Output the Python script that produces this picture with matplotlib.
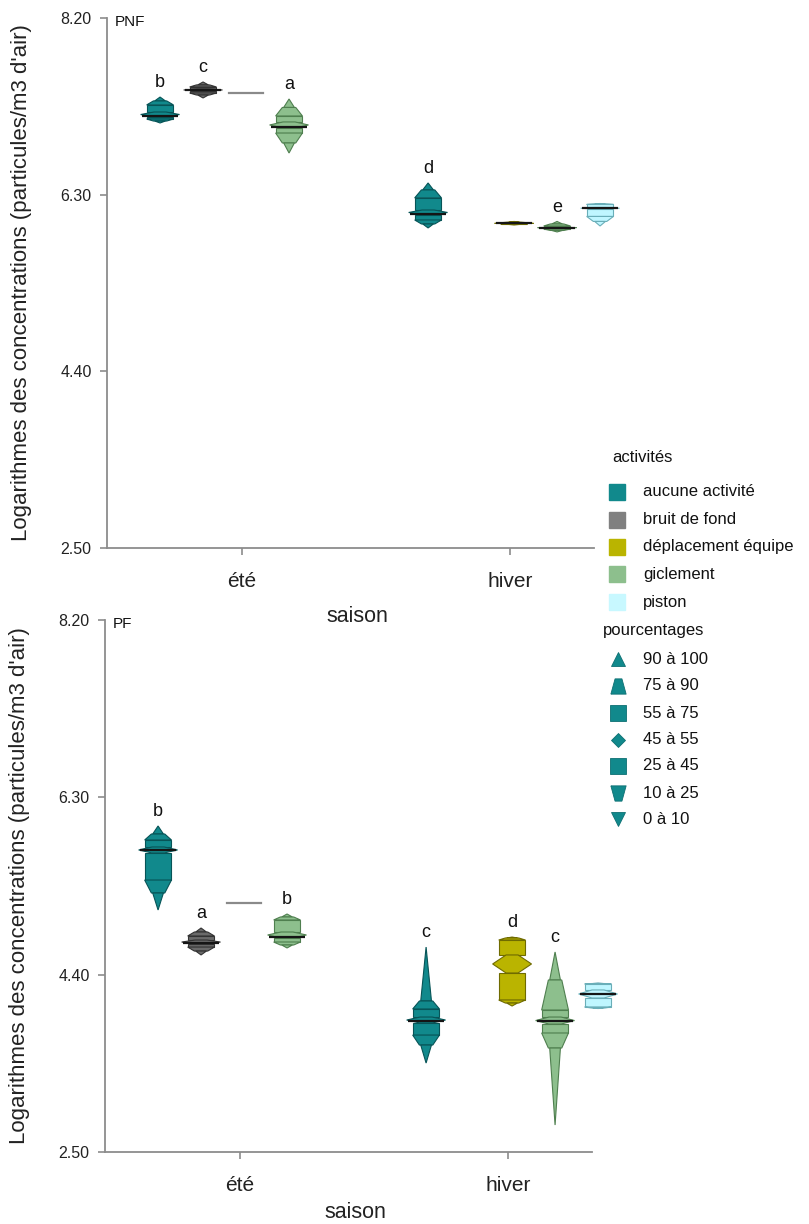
import matplotlib
matplotlib.use("Agg")
import matplotlib.pyplot as plt
from matplotlib.patches import Polygon

plt.rcParams['font.family'] = ['Liberation Sans', 'DejaVu Sans']

# ---------------- data ----------------
saisons = ["été", "hiver"]
activites = ["aucune activité", "bruit de fond", "déplacement équipe", "giclement", "piston"]
couleurs = ["#11898c", "#6a6a6a", "#bab400", "#8dbf8d", "#bff6ff"]
bords = ["#075457", "#333333", "#6f6b00", "#4f7f4f", "#6aaeb8"]
legende_couleurs = ["#11898c", "#808080", "#bab400", "#8dbf8d", "#c8f8ff"]
pourcentages = ["90 à 100", "75 à 90", "55 à 75", "45 à 55", "25 à 45", "10 à 25", "0 à 10"]
yticks = [2.50, 4.40, 6.30, 8.20]

# quantiles: p0, p10, p25, p45, p55, p75, p90, p100
pnf_saison = [0, 0, 0, 1, 1, 1, 1]
pnf_activite = [0, 1, 3, 0, 2, 3, 4]
pnf_quantiles = [
    [7.071, 7.092, 7.114, 7.135, 7.189, 7.265, 7.308, 7.350],
    [7.340, 7.372, 7.394, 7.415, 7.437, 7.458, 7.480, 7.512],
    [6.748, 6.856, 6.963, 7.017, 7.082, 7.146, 7.238, 7.329],
    [5.942, 5.985, 6.028, 6.082, 6.135, 6.265, 6.351, 6.426],
    [5.974, 5.980, 5.985, 5.989, 5.994, 5.998, 6.004, 6.012],
    [5.899, 5.915, 5.931, 5.942, 5.949, 5.963, 5.985, 6.012],
    [5.963, 6.012, 6.066, 6.146, 6.162, 6.195, 6.200, 6.205],
]
pnf_mediane = [7.146, 7.426, 7.028, 6.092, 5.991, 5.945, 6.154]
pnf_lettres = ["b", "c", "a", "d", "", "e", ""]
pnf_ligne_saison = [0]
pnf_ligne_activite = [2]
pnf_ligne = [7.394]

pf_saison = [0, 0, 0, 1, 1, 1, 1]
pf_activite = [0, 1, 3, 0, 2, 3, 4]
pf_quantiles = [
    [5.093, 5.275, 5.414, 5.704, 5.768, 5.843, 5.907, 5.993],
    [4.611, 4.653, 4.696, 4.728, 4.771, 4.814, 4.857, 4.900],
    [4.686, 4.718, 4.750, 4.793, 4.857, 4.986, 5.018, 5.050],
    [3.453, 3.646, 3.753, 3.882, 3.946, 4.032, 4.118, 4.696],
    [4.064, 4.096, 4.129, 4.418, 4.611, 4.771, 4.793, 4.803],
    [2.789, 3.614, 3.775, 3.871, 3.946, 4.021, 4.343, 4.643],
    [4.037, 4.043, 4.054, 4.150, 4.236, 4.300, 4.305, 4.311],
]
pf_mediane = [5.736, 4.739, 4.804, 3.903, None, 3.903, 4.193]
pf_lettres = ["b", "a", "b", "c", "d", "c", ""]
pf_ligne_saison = [0]
pf_ligne_activite = [2]
pf_ligne = [5.165]

# ---------------- layout ----------------
W = 0.10          # width of the rectangular parts (data units)
SLOT = 0.1604     # spacing between activities inside a season
OFF0 = -0.306     # offset of the first activity

fig = plt.figure(figsize=(8.09, 12.24), dpi=100)
FW, FH = 809, 1224


def add_ax(left, top, right, bottom):
    a = fig.add_axes([left / FW, 1 - bottom / FH, (right - left) / FW, (bottom - top) / FH])
    a.patch.set_visible(False)
    return a


ax_top = add_ax(107, 18, 594, 548)
ax_bot = add_ax(105, 620, 592, 1152)


def xpos(s, a):
    return s + OFF0 + a * SLOT


def draw_shape(ax, xc, q, face, edge):
    p0, p10, p25, p45, p55, p75, p90, p100 = q
    h = W / 2
    pm = (p45 + p55) / 2
    polys = [
        [(xc - 0.4 * h, p90), (xc + 0.4 * h, p90), (xc, p100)],
        [(xc - h, p75), (xc + h, p75), (xc + 0.5 * h, p90), (xc - 0.5 * h, p90)],
        [(xc - h, p55), (xc + h, p55), (xc + h, p75), (xc - h, p75)],
        [(xc - h, p25), (xc + h, p25), (xc + h, p45), (xc - h, p45)],
        [(xc - 0.5 * h, p10), (xc + 0.5 * h, p10), (xc + h, p25), (xc - h, p25)],
        [(xc, p0), (xc + 0.4 * h, p10), (xc - 0.4 * h, p10)],
        [(xc - 0.45 * h, p45), (xc + 0.45 * h, p45), (xc + 1.45 * h, pm),
         (xc + 0.45 * h, p55), (xc - 0.45 * h, p55), (xc - 1.45 * h, pm)],
    ]
    for pts in polys:
        ax.add_patch(Polygon(pts, closed=True, facecolor=face, edgecolor=edge,
                             linewidth=0.8, clip_on=False, zorder=3))


def draw_panel(ax, sais, act, quants, med, lettres, l_s, l_a, l_v, tag):
    for s, a, q, m, let in zip(sais, act, quants, med, lettres):
        xc = xpos(s, a)
        draw_shape(ax, xc, q, couleurs[a], bords[a])
        if m is not None:
            ax.plot([xc - 0.68 * W, xc + 0.68 * W], [m, m], color="#151515",
                    lw=1.6, zorder=4, clip_on=False, solid_capstyle="butt")
        if let:
            ax.annotate(let, (xc, q[-1]), xytext=(0, 4), textcoords="offset points",
                        ha="center", va="bottom", fontsize=13, color="#111111")
    for s, a, v in zip(l_s, l_a, l_v):
        xc = xpos(s, a)
        ax.plot([xc - 0.65 * W, xc + 0.65 * W], [v, v], color="#8a8a8a", lw=1.6, zorder=3)

    ax.set_xlim(-0.504, 1.313)
    ax.set_ylim(2.5, 8.2)
    ax.set_yticks(yticks)
    ax.set_yticklabels([f"{t:.2f}" for t in yticks])
    ax.set_xticks([0, 1])
    ax.set_xticklabels(saisons)
    for sp in ("top", "right"):
        ax.spines[sp].set_visible(False)
    for sp in ("left", "bottom"):
        ax.spines[sp].set_color("#8c8c8c")
        ax.spines[sp].set_linewidth(1.3)
    ax.tick_params(axis="y", colors="#8c8c8c", length=5, width=1.2, labelsize=11.5,
                   labelcolor="#222222", pad=6)
    ax.tick_params(axis="x", colors="#8c8c8c", length=5, width=1.2, labelsize=15,
                   labelcolor="#222222", pad=12)
    ax.set_ylabel("Logarithmes des concentrations (particules/m3 d'air)", fontsize=16,
                  color="#222222")
    ax.yaxis.set_label_coords(-0.155, 0.5)
    ax.set_xlabel("saison", fontsize=15.5, color="#222222")
    ax.text(0.016, 0.993, tag, transform=ax.transAxes, ha="left", va="center",
            fontsize=11, color="#111111")


draw_panel(ax_top, pnf_saison, pnf_activite, pnf_quantiles, pnf_mediane, pnf_lettres,
           pnf_ligne_saison, pnf_ligne_activite, pnf_ligne, "PNF")
ax_top.xaxis.set_label_coords(0.515, -0.11)
draw_panel(ax_bot, pf_saison, pf_activite, pf_quantiles, pf_mediane, pf_lettres,
           pf_ligne_saison, pf_ligne_activite, pf_ligne, "PF")
ax_bot.xaxis.set_label_coords(0.515, -0.094)

# ---------------- legend ----------------
lax = fig.add_axes([0, 0, 1, 1], zorder=10)
lax.set_xlim(0, FW)
lax.set_ylim(FH, 0)
lax.axis("off")
lax.patch.set_visible(False)

lax.text(612, 457, "activités", ha="left", va="center", fontsize=12, color="#111111")
act_y = [492, 520, 547, 574, 602]
for name, col, y in zip(activites, legende_couleurs, act_y):
    lax.plot(617, y, marker="s", ms=11.5, mfc=col, mec=col, ls="none")
    lax.text(643, y, name, ha="left", va="center", fontsize=12, color="#111111")

lax.text(603, 630, "pourcentages", ha="left", va="center", fontsize=12, color="#111111")
trap_up = [(-1, -1), (1, -1), (0.45, 1), (-0.45, 1), (-1, -1)]
trap_dn = [(-1, 1), (1, 1), (0.45, -1), (-0.45, -1), (-1, 1)]
pct_markers = ["^", trap_up, "s", "D", "s", trap_dn, "v"]
pct_sizes = [10, 11, 11, 7.5, 11, 11, 10]
pct_y = [659, 686, 713, 740, 766, 793, 819]
for lab, mk, ms, y in zip(pourcentages, pct_markers, pct_sizes, pct_y):
    lax.plot(618, y, marker=mk, ms=ms, mfc="#11898c", mec="#0d6f72", mew=0.6, ls="none")
    lax.text(643, y, lab, ha="left", va="center", fontsize=12, color="#111111")

fig.savefig("out.png", dpi=100)
